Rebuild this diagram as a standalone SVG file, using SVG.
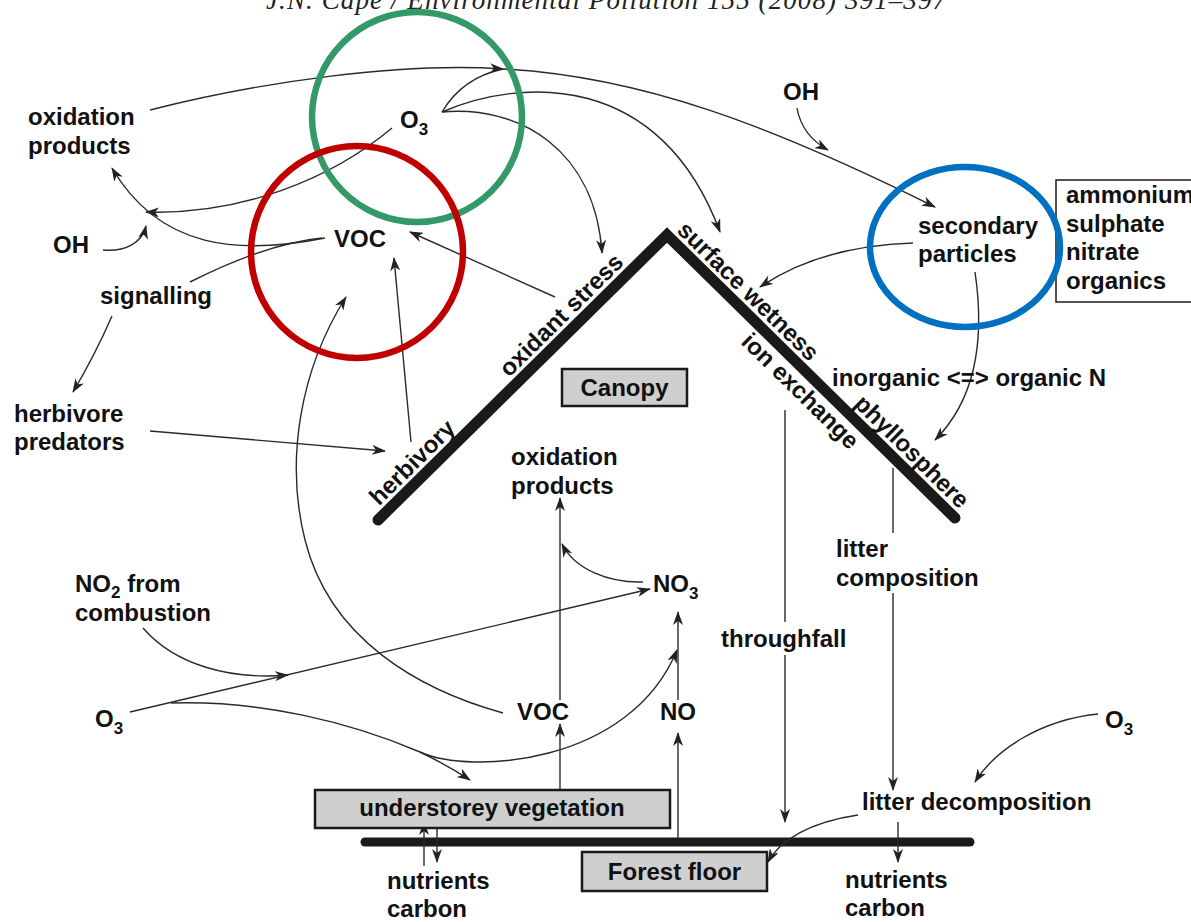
<svg xmlns="http://www.w3.org/2000/svg" width="1191" height="922" viewBox="0 0 1191 922">
<style>
.t{font-family:"Liberation Sans",Arial,Helvetica,sans-serif;font-size:24px;font-weight:bold;fill:#111}
.sub{font-size:17px}
.c{fill:none;stroke:#2a2a2a;stroke-width:1.4}
.a{marker-end:url(#ah)}
.box{fill:#cfcfcf;stroke:#1a1a1a;stroke-width:2.5}
.ring{fill:none;stroke-width:6.5}
</style>
<defs>
<marker id="ah" viewBox="0 0 14 10" refX="13" refY="5" markerWidth="14" markerHeight="10" orient="auto" markerUnits="userSpaceOnUse">
<path d="M0,0 L14,5 L0,10 L4,5 z" fill="#222"/>
</marker>
</defs>
<rect width="1191" height="922" fill="#fff"/>
<text x="606" y="9" text-anchor="middle" textLength="680" lengthAdjust="spacing" style="font-family:'Liberation Serif','Times New Roman',serif;font-style:italic;font-size:27px;fill:#222">J.N. Cape / Environmental Pollution 155 (2008) 391–397</text>

<g id="structure">
<polyline points="378,520 667,235 955,518" fill="none" stroke="#1a1a1a" stroke-width="11" stroke-linecap="round" stroke-linejoin="miter"/>
<line x1="365" y1="842" x2="970" y2="842" stroke="#1a1a1a" stroke-width="9" stroke-linecap="round"/>
</g>

<g id="connectors">
<path class="c a" d="M150,110 C260,82 400,62 503,69"/>
<path class="c a" d="M503,69 C640,76 770,125 935,207"/>
<path class="c" d="M442,112 C455,90 475,75 503,69"/>
<path class="c a" d="M442,112 C520,78 660,70 720,232"/>
<path class="c a" d="M442,112 C520,105 595,150 602,253"/>
<path class="c a" d="M797,108 C800,125 810,140 828,150"/>
<path class="c a" d="M392,128 C330,180 240,215 146,212"/>
<path class="c a" d="M325,238 C240,255 160,250 112,168"/>
<path class="c a" d="M103,250 C125,252 142,243 146,226"/>
<path class="c" d="M190,282 C230,262 280,242 322,238"/>
<path class="c a" d="M112,316 Q95,355 73,392"/>
<path class="c a" d="M150,431 L385,451"/>
<path class="c a" d="M411,442 L394,258"/>
<path class="c a" d="M555,297 L410,232"/>
<path class="c a" d="M503,713 C420,690 330,640 305,540 C285,460 300,370 346,297"/>
<path class="c a" d="M913,243 C850,245 800,260 760,287"/>
<path class="c a" d="M975,272 C985,340 975,400 935,440"/>
<path class="c a" d="M143,628 C175,665 230,680 288,675"/>
<path class="c a" d="M130,712 L650,589"/>
<path class="c" d="M171,703 C260,700 350,722 420,752"/>
<path class="c a" d="M420,752 Q447,765 470,780"/>
<path class="c a" d="M420,752 C470,775 630,765 677,650"/>
<path class="c a" d="M560,700 L560,498"/>
<path class="c a" d="M560,790 L560,724"/>
<path class="c a" d="M643,582 C610,583 575,570 562,544"/>
<path class="c a" d="M678,700 L678,612"/>
<path class="c a" d="M678,838 L678,733"/>
<path class="c" d="M785,410 L785,622"/>
<path class="c a" d="M785,655 L785,822"/>
<path class="c" d="M893,468 L893,533"/>
<path class="c a" d="M893,593 L893,790"/>
<path class="c a" d="M1098,714 C1040,720 995,750 975,782"/>
<path class="c a" d="M858,815 C810,822 780,840 768,862"/>
<path class="c a" d="M898,822 L898,862"/>
<path class="c a" d="M424,866 L424,822"/>
<path class="c a" d="M437,826 L437,862"/>
</g>

<g id="roof-labels">
<text class="t" transform="translate(379,506.6) rotate(-44.6)">herbivory</text>
<text class="t" transform="translate(509,378) rotate(-44.6)">oxidant stress</text>
<text class="t" transform="translate(676,231.4) rotate(44.5)">surface wetness</text>
<text class="t" transform="translate(740,343) rotate(44.5)">ion exchange</text>
<text class="t" transform="translate(853,405) rotate(44.5)">phyllosphere</text>
</g>

<g id="oxidation-products-top"><text class="t" x="28" y="125">oxidation</text><text class="t" x="28" y="154">products</text></g>
<g id="o3-top"><text class="t" x="400" y="128">O<tspan class="sub" dy="7">3</tspan></text></g>
<g id="oh-left"><text class="t" x="53" y="253">OH</text></g>
<g id="voc-top"><text class="t" x="334" y="247">VOC</text></g>
<g id="signalling"><text class="t" x="100" y="304">signalling</text></g>
<g id="herbivore-predators"><text class="t" x="14" y="422">herbivore</text><text class="t" x="14" y="450">predators</text></g>
<g id="oh-right"><text class="t" x="783" y="100">OH</text></g>
<g id="secondary-particles"><text class="t" x="918" y="234">secondary</text><text class="t" x="918" y="262">particles</text></g>
<g id="particle-types">
<rect x="1056" y="180" width="150" height="122" fill="#fff" stroke="#1a1a1a" stroke-width="1.5"/>
<text class="t" x="1066" y="203">ammonium</text><text class="t" x="1066" y="232">sulphate</text><text class="t" x="1066" y="260">nitrate</text><text class="t" x="1066" y="289">organics</text>
</g>
<g id="canopy"><rect class="box" x="562" y="369" width="125" height="37"/><text class="t" x="624.5" y="396" text-anchor="middle">Canopy</text></g>
<g id="oxidation-products-mid"><text class="t" x="511" y="465">oxidation</text><text class="t" x="511" y="494">products</text></g>
<g id="no3"><text class="t" x="653" y="592">NO<tspan class="sub" dy="7">3</tspan></text></g>
<g id="no2"><text class="t" x="75" y="592">NO<tspan class="sub" dy="6">2</tspan><tspan dy="-6"> from</tspan></text><text class="t" x="75" y="621">combustion</text></g>
<g id="o3-left"><text class="t" x="95" y="727">O<tspan class="sub" dy="7">3</tspan></text></g>
<g id="voc-bottom"><text class="t" x="517" y="720">VOC</text></g>
<g id="no"><text class="t" x="660" y="720">NO</text></g>
<g id="throughfall"><text class="t" x="721" y="647">throughfall</text></g>
<g id="litter-composition"><text class="t" x="836" y="557">litter</text><text class="t" x="836" y="586">composition</text></g>
<g id="n-conversion"><text class="t" x="832" y="386">inorganic &lt;=&gt; organic N</text></g>
<g id="o3-right"><text class="t" x="1105" y="728">O<tspan class="sub" dy="7">3</tspan></text></g>
<g id="litter-decomposition"><text class="t" x="862" y="810">litter decomposition</text></g>
<g id="understorey"><rect class="box" x="315" y="790" width="355" height="38"/><text class="t" x="492" y="816" text-anchor="middle">understorey vegetation</text></g>
<g id="forest-floor"><rect class="box" x="582" y="852" width="185" height="39"/><text class="t" x="674.5" y="880" text-anchor="middle">Forest floor</text></g>
<g id="nutrients-left"><text class="t" x="387" y="889">nutrients</text><text class="t" x="387" y="917">carbon</text></g>
<g id="nutrients-right"><text class="t" x="845" y="888">nutrients</text><text class="t" x="845" y="916">carbon</text></g>

<g id="highlights">
<circle class="ring" cx="417" cy="117" r="105" stroke="#339966"/>
<circle class="ring" cx="357" cy="252" r="106" stroke="#c00000"/>
<ellipse class="ring" cx="965" cy="247" rx="95" ry="80" stroke="#0070c0"/>
</g>
</svg>
